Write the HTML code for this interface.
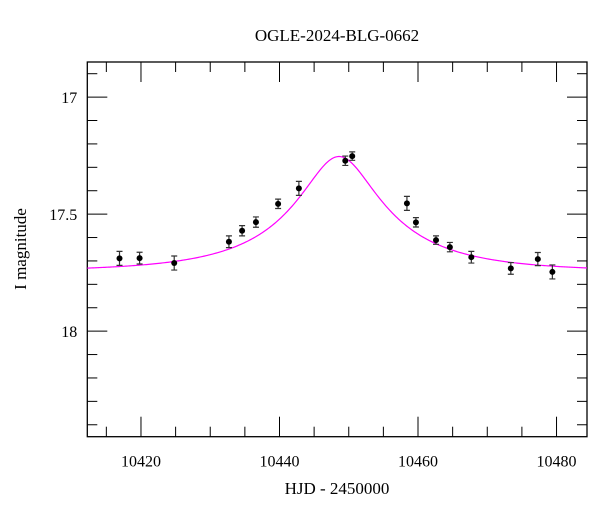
<!DOCTYPE html>
<html><head><meta charset="utf-8"><style>
body{margin:0;background:#fff;}
svg text{font-family:"Liberation Serif",serif;fill:#000;}
</style></head><body>
<svg id="chart" width="600" height="512" xmlns="http://www.w3.org/2000/svg">
<text x="337" y="41" font-size="17" text-anchor="middle">OGLE-2024-BLG-0662</text>
<text x="337" y="494" font-size="17" text-anchor="middle">HJD - 2450000</text>
<text transform="translate(26,249) rotate(-90)" font-size="17" text-anchor="middle">I magnitude</text>
<g id="plot"></g>
</svg>
<script>
const days=[10416.9,10419.8,10424.8,10432.7,10434.6,10436.6,10439.8,10442.8,10449.5,10450.5,10458.4,10459.7,10462.6,10464.6,10467.7,10473.4,10477.3,10479.4];
const mags=[17.689,17.688,17.709,17.618,17.571,17.534,17.456,17.39,17.272,17.252,17.454,17.535,17.611,17.641,17.684,17.732,17.692,17.747];
const errs=[0.03,0.025,0.03,0.025,0.022,0.022,0.02,0.03,0.02,0.018,0.03,0.02,0.018,0.02,0.025,0.025,0.028,0.03];
const xTicks=[10420,10440,10460,10480];
const yTicks=[17,17.5,18];
const model={t0:10448.6,tE:18,u0:0.3,fs:0.234,base:17.745};
const L=87.3,R=587,T=62,B=436.7;
const xMin=10412.25,xMax=10484.4,yMin=16.85,yMax=18.451;
const X=d=>L+(d-xMin)/(xMax-xMin)*(R-L);
const Y=m=>T+(m-yMin)/(yMax-yMin)*(B-T);
const NS="http://www.w3.org/2000/svg";
const g=document.getElementById('plot');
function mk(tag,attrs){const e=document.createElementNS(NS,tag);for(const k in attrs)e.setAttribute(k,attrs[k]);g.appendChild(e);return e;}
// ticks
for(let d=10415;d<=xMax;d+=5){const major=d%20===0;const len=major?20:10;const x=X(d);
 const t1=mk('line',{x1:x,x2:x,y1:B,y2:B-len,stroke:'#000','stroke-width':1});
 
 
 const t2=mk('line',{x1:x,x2:x,y1:T,y2:T+len,stroke:'#000','stroke-width':1});
 
 }
xTicks.forEach(d=>{const t=mk('text',{x:X(d),y:B+30,'font-size':16,'text-anchor':'middle'});t.textContent=d;
 
 });
for(let i=0;i<=16;i++){const m=16.9+i*0.1;if(m>yMax)break;const major=Math.abs(m*2-Math.round(m*2))<1e-6;const len=major?20:10;const y=Y(m);
 const t1=mk('line',{x1:L,x2:L+len,y1:y,y2:y,stroke:'#000','stroke-width':1});
 
 
 const t2=mk('line',{x1:R,x2:R-len,y1:y,y2:y,stroke:'#000','stroke-width':1});
 
 }
yTicks.forEach(m=>{const t=mk('text',{x:L-10,y:Y(m)+6,'font-size':16,'text-anchor':'end'});t.textContent=m;
 
 });
const frame=mk('rect',{x:L,y:T,width:R-L,height:B-T,fill:'none',stroke:'#000','stroke-width':1.3});


// model
function modelMag(t){const tau=(t-model.t0)/model.tE;const u=Math.sqrt(model.u0*model.u0+tau*tau);
 const A=(u*u+2)/(u*Math.sqrt(u*u+4));return model.base-2.5*Math.log10(1+model.fs*(A-1));}
let p='';for(let i=0;i<=400;i++){const t=xMin+(xMax-xMin)*i/400;p+=(i?'L':'M')+X(t).toFixed(2)+','+Y(modelMag(t)).toFixed(2);}
const curve=mk('path',{d:p,fill:'none',stroke:'#ff00ff','stroke-width':1.2});


// data
days.forEach((d,i)=>{const x=X(d),y=Y(mags[i]),y1=Y(mags[i]-errs[i]),y2=Y(mags[i]+errs[i]);
 const e=mk('path',{d:`M${x},${y1}V${y2}M${x-3},${y1}H${x+3}M${x-3},${y2}H${x+3}`,stroke:'#333','stroke-width':1.2,fill:'none'});
 
 
 const c=mk('circle',{cx:x,cy:y,r:3,fill:'#000'});
 
 });
</script>
</body></html>
